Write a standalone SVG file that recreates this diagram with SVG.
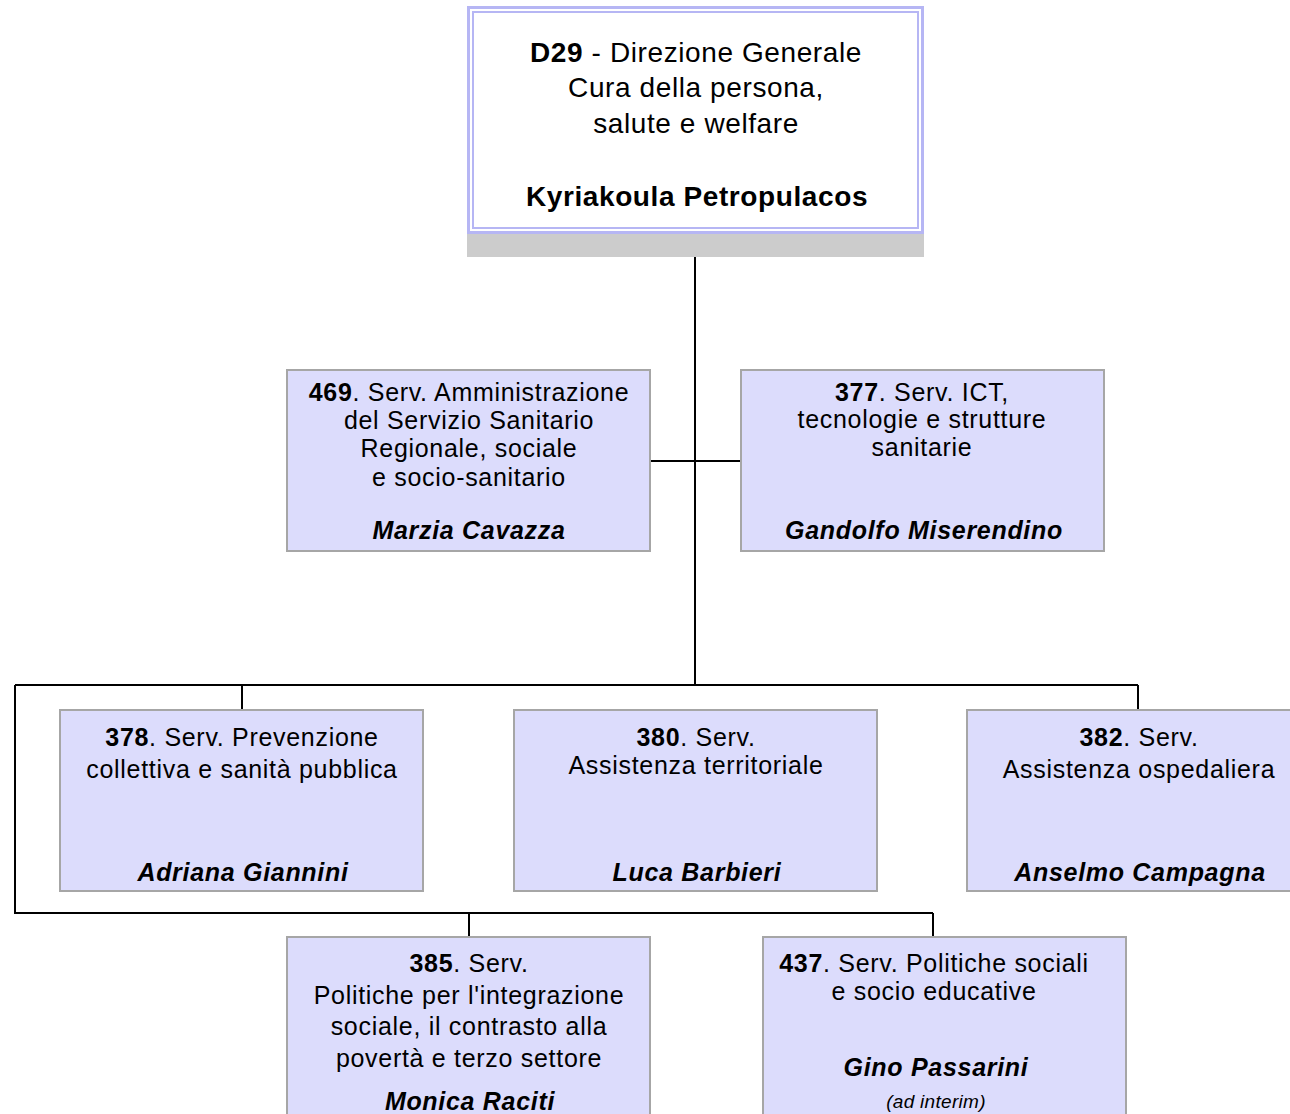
<svg xmlns="http://www.w3.org/2000/svg" width="1290" height="1114" viewBox="0 0 1290 1114">
<style>
text{font-family:"Liberation Sans",Arial,sans-serif;fill:#000;text-anchor:middle}
.t{font-size:28px;letter-spacing:0.6px}
.n{font-size:25px;letter-spacing:0.7px}
.b{font-weight:bold}
.i{font-style:italic;font-weight:bold}
.s{font-size:19px;font-style:italic;letter-spacing:0.3px}
.box{fill:#dcdcfc;stroke:#a6a6a6;stroke-width:2}
.c{stroke:#000;stroke-width:2;fill:none}
</style>
<rect width="1290" height="1114" fill="#fff"/>
<g id="connectors">
<path class="c" d="M695,234V685M650,461H740M15,685H1138M15,685V913H933M242,685V710M1138,685V710M469,913V937M933,913V937"/>
</g>
<g id="d29">
<rect x="467" y="20" width="457" height="237" fill="#cccccc"/>
<rect x="468.5" y="7.5" width="454" height="225" fill="#fff" stroke="#b6b6f4" stroke-width="3"/>
<rect x="473" y="12" width="445" height="216" fill="none" stroke="#b6b6f4" stroke-width="2"/>
<text class="t" x="696" y="62"><tspan class="b">D29</tspan> - Direzione Generale</text>
<text class="t" x="696" y="97">Cura della persona,</text>
<text class="t" x="696" y="133">salute e welfare</text>
<text class="t b" x="697" y="206">Kyriakoula Petropulacos</text>
</g>
<g id="s469">
<rect class="box" x="287" y="370" width="363" height="181"/>
<text class="n" x="469" y="401"><tspan class="b">469</tspan>. Serv. Amministrazione</text>
<text class="n" x="469" y="429">del Servizio Sanitario</text>
<text class="n" x="469" y="457">Regionale, sociale</text>
<text class="n" x="469" y="486">e socio-sanitario</text>
<text class="n i" x="469" y="539">Marzia Cavazza</text>
</g>
<g id="s377">
<rect class="box" x="741" y="370" width="363" height="181"/>
<text class="n" x="922" y="401"><tspan class="b">377</tspan>. Serv. ICT,</text>
<text class="n" x="922" y="428">tecnologie e strutture</text>
<text class="n" x="922" y="456">sanitarie</text>
<text class="n i" x="924" y="539">Gandolfo Miserendino</text>
</g>
<g id="s378">
<rect class="box" x="60" y="710" width="363" height="181"/>
<text class="n" x="242" y="746"><tspan class="b">378</tspan>. Serv. Prevenzione</text>
<text class="n" x="242" y="778">collettiva e sanità pubblica</text>
<text class="n i" x="243" y="881">Adriana Giannini</text>
</g>
<g id="s380">
<rect class="box" x="514" y="710" width="363" height="181"/>
<text class="n" x="696" y="746"><tspan class="b">380</tspan>. Serv.</text>
<text class="n" x="696" y="774">Assistenza territoriale</text>
<text class="n i" x="697" y="881">Luca Barbieri</text>
</g>
<g id="s382">
<rect class="box" x="967" y="710" width="363" height="181"/>
<text class="n" x="1139" y="746"><tspan class="b">382</tspan>. Serv.</text>
<text class="n" x="1139" y="778">Assistenza ospedaliera</text>
<text class="n i" x="1140" y="881">Anselmo Campagna</text>
</g>
<g id="s385">
<rect class="box" x="287" y="937" width="363" height="190"/>
<text class="n" x="469" y="972"><tspan class="b">385</tspan>. Serv.</text>
<text class="n" x="469" y="1004">Politiche per l'integrazione</text>
<text class="n" x="469" y="1035">sociale, il contrasto alla</text>
<text class="n" x="469" y="1067">povertà e terzo settore</text>
<text class="n i" x="470" y="1110">Monica Raciti</text>
</g>
<g id="s437">
<rect class="box" x="763" y="937" width="363" height="190"/>
<text class="n" x="934" y="972"><tspan class="b">437</tspan>. Serv. Politiche sociali</text>
<text class="n" x="934" y="1000">e socio educative</text>
<text class="n i" x="936" y="1076">Gino Passarini</text>
<text class="s" x="936" y="1108">(ad interim)</text>
</g>
</svg>
